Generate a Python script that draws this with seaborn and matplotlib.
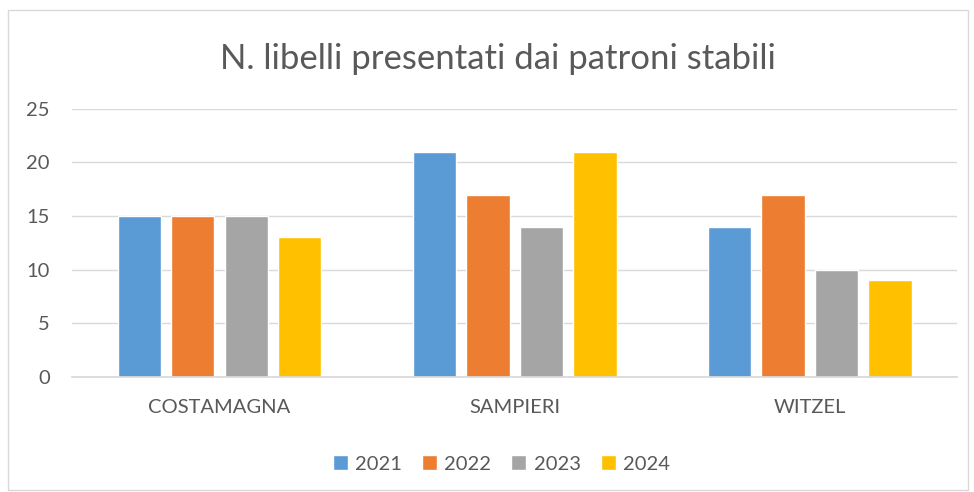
import matplotlib
matplotlib.use("Agg")
import matplotlib.pyplot as plt
import seaborn as sns
import pandas as pd
from matplotlib.patches import Rectangle

# Dati
patroni = ["COSTAMAGNA", "SAMPIERI", "WITZEL"]
anni = ["2021", "2022", "2023", "2024"]
v2021 = [15, 21, 14]
v2022 = [15, 17, 17]
v2023 = [15, 14, 10]
v2024 = [13, 21, 9]
colori = ["#5B9BD5", "#ED7D31", "#A5A5A5", "#FFC000"]

righe = []
for anno, valori in zip(anni, [v2021, v2022, v2023, v2024]):
    for p, v in zip(patroni, valori):
        righe.append({"patrone": p, "anno": anno, "libelli": v})
df = pd.DataFrame(righe)

sns.set_theme(style="white")
plt.rcParams["font.family"] = ["Lato", "DejaVu Sans"]

fig = plt.figure(figsize=(9.74, 4.92), dpi=100)
ax = fig.add_axes([0.0739, 0.234, 0.909, 0.545])

sns.barplot(data=df, x="patrone", y="libelli", hue="anno", order=patroni,
            hue_order=anni, palette=colori, width=0.725, gap=0.19,
            saturation=1, ax=ax)

ax.set_ylim(0, 25)
ax.set_yticks(range(0, 26, 5))
ax.set_xlabel("")
ax.set_ylabel("")
ax.yaxis.grid(True, color="#D9D9D9", linewidth=1)
ax.set_axisbelow(True)
for s in ["top", "right", "left"]:
    ax.spines[s].set_visible(False)
ax.spines["bottom"].set_color("#D9D9D9")
ax.tick_params(axis="both", length=0, labelsize=14.5, colors="#595959")
ax.tick_params(axis="y", pad=16)
ax.tick_params(axis="x", pad=16)

fig.suptitle("N. libelli presentati dai patroni stabili", x=0.511, y=0.912,
             fontsize=25, color="#595959")

ax.legend(loc="upper center", bbox_to_anchor=(0.485, -0.225), ncol=4, frameon=False,
          fontsize=14.5, handlelength=0.75, handleheight=0.75, columnspacing=1.0,
          handletextpad=0.35, labelcolor="#595959")

fig.patches.append(Rectangle((0.008, 0.005), 0.986, 0.975, transform=fig.transFigure,
                             fill=False, edgecolor="#D9D9D9", linewidth=1))

fig.savefig("out.png", dpi=100)
